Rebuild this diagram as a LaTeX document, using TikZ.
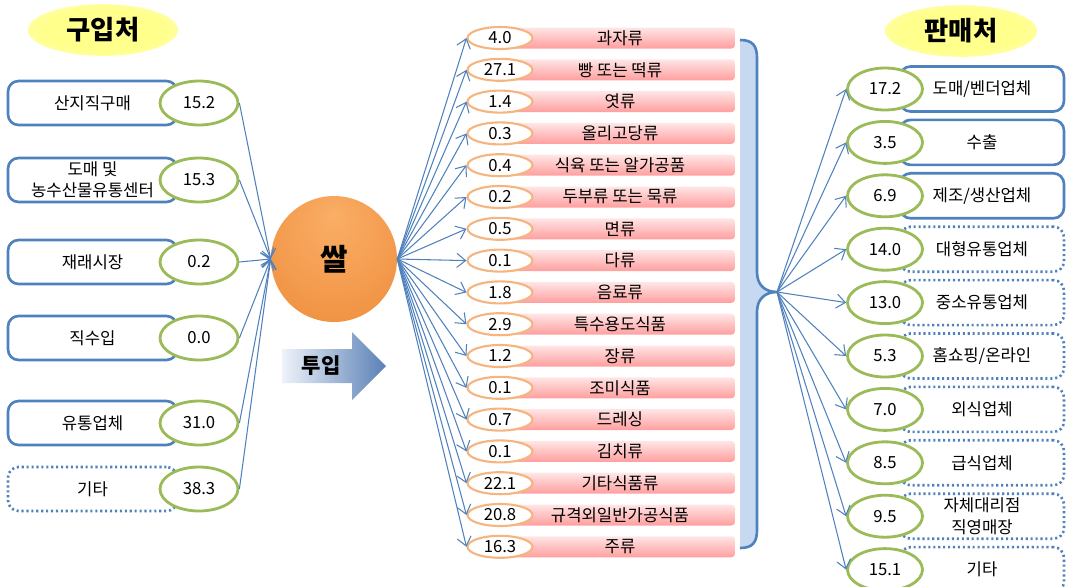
\documentclass[tikz,border=0pt]{standalone}
\usepackage{fontspec}
\setmainfont{Noto Sans CJK KR}
\usetikzlibrary{calc, positioning, shapes, arrows.meta}
\definecolor{lineblue}{HTML}{4F81BD}
\definecolor{leafgreen}{HTML}{9BBB59}
\definecolor{peach}{HTML}{F6B47F}
\definecolor{pinktop}{HTML}{FFE6E6}
\definecolor{pinkbot}{HTML}{FF9E9E}
\definecolor{bracefill}{HTML}{C6D9F1}
\definecolor{riceinner}{HTML}{FAAE66}
\definecolor{riceouter}{HTML}{EC8634}
\definecolor{glow}{HTML}{FFFF8C}
\definecolor{pushlight}{HTML}{EEF3FA}
\definecolor{pushdark}{HTML}{5A80B6}
\pgfdeclareradialshading{glowshade}{\pgfpoint{0bp}{0bp}}{color(0bp)=(glow); color(20bp)=(glow); color(50bp)=(glow!20!white)}
\pgfdeclareradialshading{riceshade}{\pgfpoint{0bp}{18bp}}{color(0bp)=(riceinner); color(20bp)=(riceinner!60!riceouter); color(42bp)=(riceouter!92!riceinner); color(50bp)=(riceouter)}
\def\midsep{31.8}
\def\salesep{53.4}
\tikzstyle{every node}=[font=\fontsize{9.5}{12}\selectfont]
\tikzstyle{source box}=[rectangle, rounded corners=6pt, draw=lineblue, line width=1.5pt, minimum width=3.38cm, minimum height=0.88cm, align=center, inner sep=1pt]
\tikzstyle{source dot box}=[source box, dash pattern=on 1.2pt off 1.6pt]
\tikzstyle{share}=[ellipse, draw=leafgreen, fill=white, line width=1.6pt, minimum width=1.56cm, minimum height=0.88cm, inner sep=0pt]
\tikzstyle{use share}=[ellipse, draw=peach, fill=white, line width=1.2pt, minimum width=1.3cm, minimum height=0.44cm, inner sep=0pt]
\tikzstyle{use bar}=[rectangle, rounded corners=2pt, top color=pinktop, bottom color=pinkbot, minimum width=4.6cm, minimum height=0.42cm, inner sep=0pt]
\tikzstyle{sale box}=[source box, minimum width=3.28cm, minimum height=0.9cm]
\tikzstyle{sale dot box}=[sale box, dash pattern=on 1.2pt off 1.6pt]
\tikzstyle{sale share}=[share, minimum width=1.5cm, minimum height=0.84cm]
\tikzstyle{title blob}=[ellipse, shading=glowshade, minimum width=3cm, minimum height=1cm, font=\fontsize{15}{18}\selectfont\bfseries]
\tikzstyle{flow}=[-{Straight Barb[length=5pt,width=8pt]}, draw=lineblue, line width=0.6pt]

\begin{document}
\begin{tikzpicture}[x=0.02cm, y=-0.02cm]
			\useasboundingbox (0,0) rectangle (1066,586);
			\clip (0,0) rectangle (1066,586);

			% Titles
			\node[title blob] (buy title) at (103,30) {구입처};
			\node[title blob, minimum width=3.04cm, minimum height=0.96cm] (sell title) at (961,31) {판매처};

			% Purchase sources with their shares
			\foreach \i/\y/\txt/\val/\sty in {1/103/{산지직구매}/15.2/source box,
				2/180/{도매 및\\농수산물유통센터}/15.3/source box,
				3/262/{재래시장}/0.2/source box,
				4/338/{직수입}/0.0/source box,
				5/423/{유통업체}/31.0/source box,
				6/489/{기타}/38.3/source dot box}
			{
			\node[\sty] (S-\i) at (92.5,\y) {\txt};
			\node[share] (SV-\i) at (199,\y) {\val};
			}

			% Rice and input arrow
			\node[circle, shading=riceshade, minimum size=2.52cm, font=\fontsize{17}{20}\selectfont\bfseries] (rice) at (334,259) {쌀};
			\shade[left color=pushlight, right color=pushdark] (282,349) -- (352,349) -- (352,332) -- (386,366) -- (352,400) -- (352,383) -- (282,383) -- cycle;
			\node[font=\fontsize{12}{14}\selectfont\bfseries] (input label) at (321,366) {투입};

			% Processed food groups
			\foreach \i/\val/\txt in {1/4.0/{과자류}, 2/27.1/{빵 또는 떡류}, 3/1.4/{엿류},
				4/0.3/{올리고당류}, 5/0.4/{식육 또는 알가공품}, 6/0.2/{두부류 또는 묵류},
				7/0.5/{면류}, 8/0.1/{다류}, 9/1.8/{음료류}, 10/2.9/{특수용도식품},
				11/1.2/{장류}, 12/0.1/{조미식품}, 13/0.7/{드레싱}, 14/0.1/{김치류},
				15/22.1/{기타식품류}, 16/20.8/{규격외일반가공식품}, 17/16.3/{주류}}
			{
			\node[use bar] (U-\i) at (620,{38+\midsep*(\i-1)}) {\txt};
			\node[use share] (UV-\i) at (500,{38+\midsep*(\i-1)}) {\val};
			}

			% Brace gathering the food groups
			\fill[bracefill] (740,40) .. controls (752,40) and (757,45) .. (757,58) -- (757,272) .. controls (757,285) and (765,292) .. (777,292) .. controls (765,292) and (757,299) .. (757,312) -- (757,530) .. controls (757,543) and (752,548) .. (740,548) -- cycle;
			\draw[lineblue, line width=1.5pt] (740,40) .. controls (752,40) and (757,45) .. (757,58) -- (757,272) .. controls (757,285) and (765,292) .. (777,292) .. controls (765,292) and (757,299) .. (757,312) -- (757,530) .. controls (757,543) and (752,548) .. (740,548);
			\coordinate (brace tip) at (777,292);

			% Sales channels with their shares
			\foreach \i/\val/\txt/\sty in {1/17.2/{도매/벤더업체}/sale box, 2/3.5/{수출}/sale box,
				3/6.9/{제조/생산업체}/sale box, 4/14.0/{대형유통업체}/sale dot box,
				5/13.0/{중소유통업체}/sale dot box, 6/5.3/{홈쇼핑/온라인}/sale dot box,
				7/7.0/{외식업체}/sale dot box, 8/8.5/{급식업체}/sale dot box,
				9/9.5/{자체대리점\\직영매장}/sale dot box, 10/15.1/{기타}/sale dot box}
			{
			\node[\sty] (P-\i) at (982,{89+\salesep*(\i-1)}) {\txt};
			\node[sale share] (PV-\i) at (885,{89+\salesep*(\i-1)}) {\val};
			}

			% Connect every source share with the rice
			\foreach \i in {1,...,6}
			\path (SV-\i.east) edge[flow] (rice.west);

			% Connect the rice with every food group
			\foreach \i in {1,...,17}
			\path (rice.east) edge[flow] (UV-\i.west);

			% Connect the brace with every sales channel
			\foreach \i in {1,...,10}
			\path (brace tip) edge[flow] (PV-\i.west);
		\end{tikzpicture}
\end{document}
